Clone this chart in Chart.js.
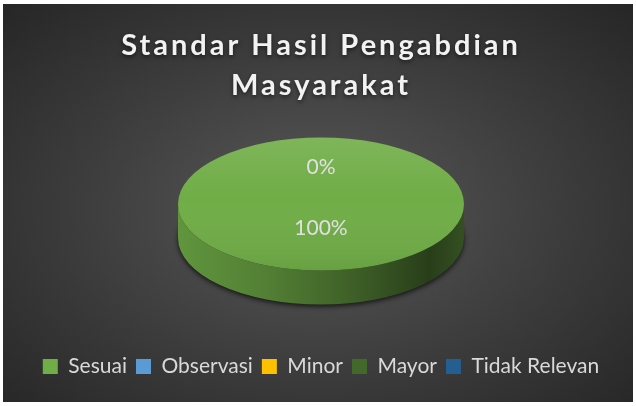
<!DOCTYPE html>
<html>
<head>
<meta charset="utf-8">
<script src="https://cdn.jsdelivr.net/npm/chart.js@4.4.1/dist/chart.umd.min.js"></script>
<style>
  html, body { margin: 0; padding: 0; background: #fff; }
  #wrap {
    position: absolute; left: 3px; top: 4px; width: 630px; height: 398px;
    background: radial-gradient(ellipse at 50% 52%, #595959 0%, #3c3c3c 55%, #262626 100%);
  }
  canvas { display: block; }
</style>
</head>
<body>
<div id="wrap"><canvas id="chart"></canvas></div>
<script>
const titleLines = ["Standar Hasil Pengabdian", "Masyarakat"];
const categories = ["Sesuai", "Observasi", "Minor", "Mayor", "Tidak Relevan"];
const values = [100, 0, 0, 0, 0];
const colors = ["#70ad47", "#5b9bd5", "#ffc000", "#43682b", "#255e91"];

function shade(hex, k) {
  const n = parseInt(hex.slice(1), 16);
  const r = Math.min(255, Math.round(((n >> 16) & 255) * k));
  const g = Math.min(255, Math.round(((n >> 8) & 255) * k));
  const b = Math.min(255, Math.round((n & 255) * k));
  return `rgb(${r},${g},${b})`;
}

// title drawn by hand so it can get letter spacing and a soft shadow
const titlePlugin = {
  id: "titleText",
  beforeDraw(chart, args, opts) {
    const ctx = chart.ctx;
    ctx.save();
    ctx.font = "bold 29px Lato, 'Open Sans', sans-serif";
    ctx.letterSpacing = opts.spacing;
    ctx.fillStyle = "#f2f2f2";
    ctx.textAlign = "center";
    ctx.textBaseline = "alphabetic";
    ctx.shadowColor = "rgba(0,0,0,0.55)";
    ctx.shadowBlur = 4;
    ctx.shadowOffsetY = 2;
    titleLines.forEach((t, i) => {
      ctx.fillText(t, chart.width / 2 + 3, opts.top + i * opts.lineGap);
    });
    ctx.restore();
  }
};

// squash the pie into a tilted disc and give it a side wall
const pie3d = {
  id: "pie3d",
  beforeDatasetsDraw(chart, args, opts) {
    const ctx = chart.ctx;
    const arcs = chart.getDatasetMeta(0).data;
    const { x, y, outerRadius: r } = arcs[0];
    const ry = r * opts.tilt;
    const top = y - opts.depth / 2;
    const bot = y + opts.depth / 2;

    // shadow under the disc
    ctx.save();
    ctx.shadowColor = "rgba(0,0,0,0.7)";
    ctx.shadowBlur = 5;
    ctx.shadowOffsetY = 2;
    ctx.fillStyle = "#1e1e1e";
    ctx.beginPath();
    ctx.ellipse(x, bot, r, ry, 0, 0, Math.PI * 2);
    ctx.fill();
    ctx.restore();

    // side wall, only the front half shows
    arcs.forEach((arc, i) => {
      const s = arc.startAngle, e = arc.endAngle;
      if (e - s <= 0) return;
      const base = colors[i];
      const grad = ctx.createLinearGradient(x - r, 0, x + r, 0);
      grad.addColorStop(0, shade(base, 0.86));
      grad.addColorStop(0.3, shade(base, 0.74));
      grad.addColorStop(0.6, shade(base, 0.56));
      grad.addColorStop(0.88, shade(base, 0.36));
      grad.addColorStop(1, shade(base, 0.46));
      ctx.fillStyle = grad;
      for (let k = -1; k <= 1; k++) {
        const a = Math.max(s, k * 2 * Math.PI);
        const b = Math.min(e, k * 2 * Math.PI + Math.PI);
        if (b <= a) continue;
        ctx.beginPath();
        ctx.ellipse(x, top, r, ry, 0, a, b);
        ctx.ellipse(x, bot, r, ry, 0, b, a, true);
        ctx.closePath();
        ctx.fill();
      }
    });

    ctx.save();
    ctx.translate(x, top);
    ctx.scale(1, opts.tilt);
    ctx.translate(-x, -y);
  },
  afterDatasetsDraw(chart, args, opts) {
    const ctx = chart.ctx;
    const arcs = chart.getDatasetMeta(0).data;
    const { x, y, outerRadius: r } = arcs[0];

    // light from above on the top face
    const lg = ctx.createLinearGradient(0, y - r, 0, y + r);
    lg.addColorStop(0, "rgba(255,255,255,0.10)");
    lg.addColorStop(0.45, "rgba(255,255,255,0.0)");
    lg.addColorStop(1, "rgba(0,0,0,0.07)");
    ctx.fillStyle = lg;
    ctx.beginPath();
    ctx.arc(x, y, r, 0, Math.PI * 2);
    ctx.fill();
    ctx.restore();

    // data labels
    const ry = r * opts.tilt;
    const top = y - opts.depth / 2;
    const data = chart.data.datasets[0].data;
    const total = data.reduce((a, b) => a + b, 0);
    const seen = new Set();
    ctx.save();
    ctx.font = "21px Lato, 'Open Sans', sans-serif";
    ctx.fillStyle = "#e0e0e0";
    ctx.textAlign = "center";
    ctx.textBaseline = "middle";
    arcs.forEach((arc, i) => {
      const v = data[i];
      const mid = (arc.startAngle + arc.endAngle) / 2;
      const f = v > 0 ? opts.labelIn : opts.labelOut;
      const lx = x + Math.cos(mid) * r * f;
      const ly = top + Math.sin(mid) * ry * f;
      const key = Math.round(lx) + "," + Math.round(ly);
      if (seen.has(key)) return;
      seen.add(key);
      ctx.fillText(Math.round(v / total * 100) + "%", lx, ly);
    });
    ctx.restore();
  }
};

new Chart(document.getElementById("chart"), {
  type: "pie",
  data: {
    labels: categories,
    datasets: [{
      data: values,
      backgroundColor: colors,
      borderWidth: 0,
      radius: 143
    }]
  },
  options: {
    responsive: true,
    maintainAspectRatio: false,
    animation: false,
    events: [],
    layout: { padding: { top: 91, bottom: 15, left: 6, right: 0 } },
    plugins: {
      titleText: { top: 51, lineGap: 40, spacing: "3px" },
      pie3d: { tilt: 0.465, depth: 34, labelIn: 0.36, labelOut: 0.56 },
      tooltip: { enabled: false },
      legend: {
        position: "bottom",
        labels: {
          color: "#d9d9d9",
          font: { family: "Lato, 'Open Sans', sans-serif", size: 21 },
          boxWidth: 15,
          boxHeight: 15,
          padding: 9
        }
      }
    }
  },
  plugins: [titlePlugin, pie3d]
});
</script>
</body>
</html>
